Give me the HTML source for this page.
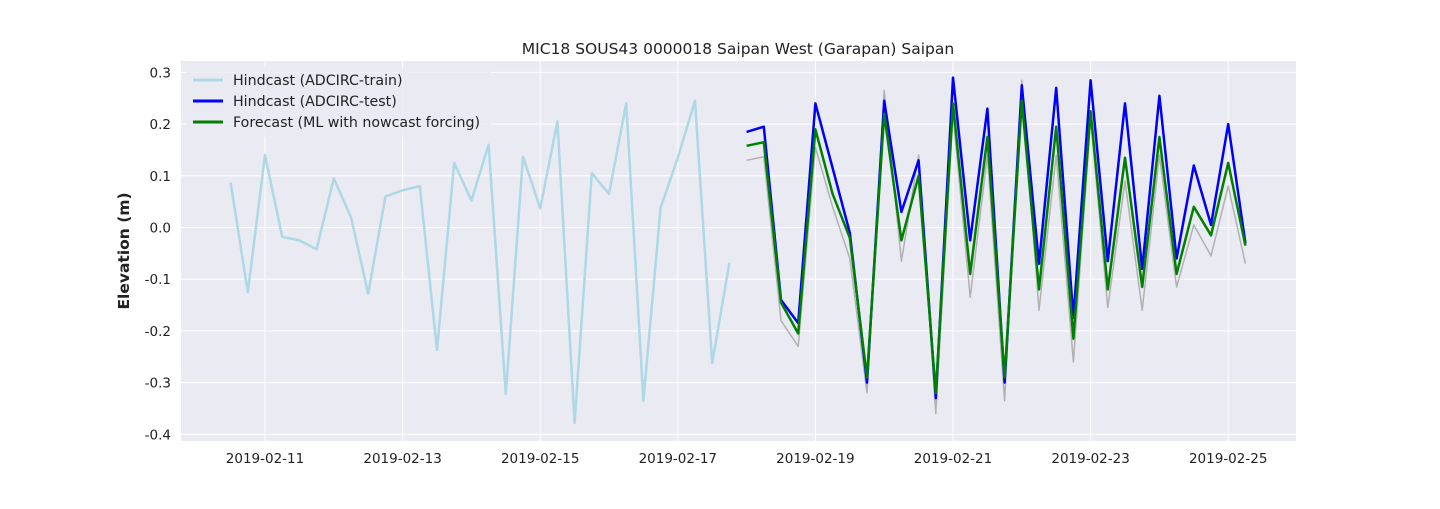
<!DOCTYPE html>
<html><head><meta charset="utf-8"><style>
body{margin:0;background:#fff;}
svg{font-family:"DejaVu Sans","Liberation Sans",sans-serif;}
</style></head><body>
<svg id="chart" width="1440" height="504" xmlns="http://www.w3.org/2000/svg">
<rect x="181" y="61" width="1115" height="380" fill="#eaeaf2"/>
<g id="grid"></g><g id="ticks"></g><g id="series"></g>
<text x="738" y="54" text-anchor="middle" font-size="15.5" fill="#222">MIC18 SOUS43 0000018 Saipan West (Garapan) Saipan</text>
<text transform="translate(129,251) rotate(-90)" text-anchor="middle" font-size="15.5" font-weight="bold" fill="#222">Elevation (m)</text>
<g>
<rect x="186" y="67" width="305" height="70" rx="3" fill="#eaeaf2" opacity="0.8"/>
<g><line x1="193" y1="80" x2="223" y2="80" stroke="#add8e6" stroke-width="3"/><text x="233" y="85" font-size="14.2" fill="#222">Hindcast (ADCIRC-train)</text></g>
<g><line x1="193" y1="101" x2="223" y2="101" stroke="#0000ff" stroke-width="3"/><text x="233" y="106" font-size="14.2" fill="#222">Hindcast (ADCIRC-test)</text></g>
<g><line x1="193" y1="122" x2="223" y2="122" stroke="#008000" stroke-width="3"/><text x="233" y="127" font-size="14.2" fill="#222">Forecast (ML with nowcast forcing)</text></g>
</g>
</svg>
<script>
const yTicks=[0.3,0.2,0.1,0.0,-0.1,-0.2,-0.3,-0.4];
const yTickLabels=["0.3","0.2","0.1","0.0","-0.1","-0.2","-0.3","-0.4"];
const xTickDays=[11,13,15,17,19,21,23,25];
const xTickLabels=["2019-02-11","2019-02-13","2019-02-15","2019-02-17","2019-02-19","2019-02-21","2019-02-23","2019-02-25"];
const trainStartDay=10.5;
const testStartDay=18;
const stepDays=0.25;
const trainValues=[0.087,-0.125,0.14,-0.018,-0.025,-0.042,0.095,0.02,-0.128,0.06,0.072,0.08,-0.237,0.125,0.052,0.16,-0.322,0.137,0.037,0.205,-0.378,0.105,0.065,0.24,-0.335,0.038,0.135,0.245,-0.262,-0.068];
const testValues=[0.185,0.195,-0.14,-0.185,0.24,0.115,-0.01,-0.30,0.245,0.03,0.13,-0.33,0.29,-0.025,0.23,-0.30,0.275,-0.07,0.27,-0.175,0.285,-0.065,0.24,-0.08,0.255,-0.06,0.12,0.005,0.20,-0.03];
const forecastValues=[0.158,0.165,-0.145,-0.205,0.19,0.065,-0.02,-0.29,0.22,-0.025,0.10,-0.32,0.24,-0.09,0.175,-0.29,0.245,-0.12,0.195,-0.215,0.225,-0.12,0.135,-0.115,0.175,-0.09,0.04,-0.015,0.125,-0.035];
const greyValues=[0.13,0.137,-0.18,-0.23,0.155,0.04,-0.06,-0.32,0.265,-0.065,0.14,-0.36,0.22,-0.135,0.14,-0.335,0.285,-0.16,0.14,-0.26,0.21,-0.155,0.09,-0.16,0.14,-0.115,0.005,-0.055,0.08,-0.07];

const X=d=>265+(d-11)*68.8;
const Y=v=>227.5-v*517;
const NS="http://www.w3.org/2000/svg";
function mk(tag,attrs,parent){const e=document.createElementNS(NS,tag);for(const k in attrs)e.setAttribute(k,attrs[k]);parent.appendChild(e);return e;}
const grid=document.getElementById('grid'),ticks=document.getElementById('ticks'),ser=document.getElementById('series');
yTicks.forEach((v,i)=>{
 const l=mk('line',{x1:181,x2:1296,y1:Y(v),y2:Y(v),stroke:'#fff','stroke-width':1},grid);
 
 
 const t=mk('text',{x:171,y:Y(v)+5,'text-anchor':'end','font-size':13.5,fill:'#222'},ticks);
 t.textContent=yTickLabels[i];
 
 
});
xTickDays.forEach((d,i)=>{
 const l=mk('line',{x1:X(d),x2:X(d),y1:61,y2:441,stroke:'#fff','stroke-width':1},grid);
 
 
 const t=mk('text',{x:X(d),y:463,'text-anchor':'middle','font-size':13.5,fill:'#222'},ticks);
 t.textContent=xTickLabels[i];
 
 
});
function line(vals,start,color,w,name,op){
 const pts=vals.map((v,i)=>X(start+i*stepDays).toFixed(1)+','+Y(v).toFixed(1)).join(' ');
 const p=mk('polyline',{points:pts,fill:'none',stroke:color,'stroke-width':w,'stroke-linejoin':'round',opacity:op},ser);
 
 
}
line(trainValues,trainStartDay,'#add8e6',2.5,'train-line',1);
line(greyValues,testStartDay,'#999',1.5,'grey-reference-line',0.7);
line(testValues,testStartDay,'#0000ff',2.5,'test-line',1);
line(forecastValues,testStartDay,'#008000',2.5,'forecast-line',1);
</script>
</body></html>
